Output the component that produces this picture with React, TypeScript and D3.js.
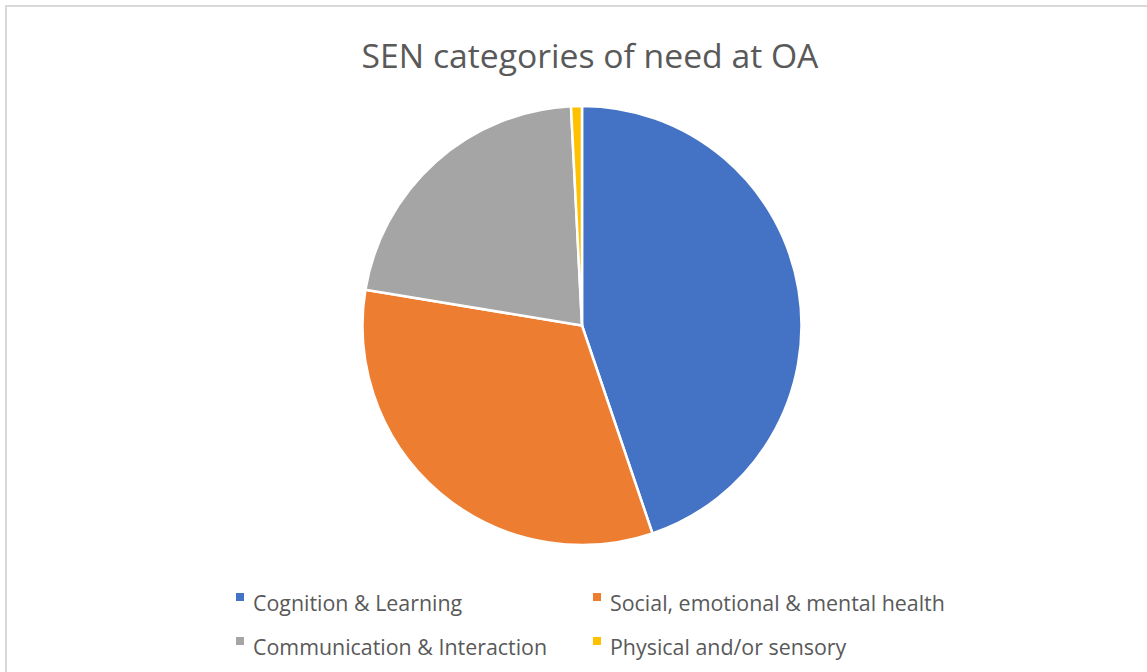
import React from "react";
import * as d3 from "d3";

const categories = [
  "Cognition & Learning",
  "Social, emotional & mental health",
  "Communication & Interaction",
  "Physical and/or sensory",
];
const values = [56, 41, 27, 1];
const colors = ["#4472C4", "#ED7D31", "#A5A5A5", "#FFC000"];
const title = "SEN categories of need at OA";

const W = 1147;
const H = 672;
const FONT = "'Open Sans', Lato, sans-serif";

export default function App() {
  const cx = 582;
  const cy = 325.5;
  const r = 219.5;
  const data = categories.map((c, i) => ({ c, v: values[i], col: colors[i] }));
  const pie = d3
    .pie<{ c: string; v: number; col: string }>()
    .sort(null)
    .value((d) => d.v)
    .startAngle(0)
    .endAngle(2 * Math.PI);
  const arc = d3
    .arc<d3.PieArcDatum<{ c: string; v: number; col: string }>>()
    .innerRadius(0)
    .outerRadius(r);
  const arcs = pie(data);

  const legendPos = [
    { x: 236, y: 593 },
    { x: 593, y: 593 },
    { x: 236, y: 637 },
    { x: 593, y: 637 },
  ];

  return (
    <div style={{ position: "fixed", left: 0, top: 0, width: W, height: H, background: "#fff" }}>
      <svg width={W} height={H} style={{ display: "block" }}>
        <rect x={6} y={6} width={W + 20} height={H + 20} fill="#fff" stroke="#d9d9d9" strokeWidth={2} />
        <text
          x={590}
          y={68}
          textAnchor="middle"
          fontFamily={FONT}
          fontSize={33.7}
          fill="#595959"
        >
          {title}
        </text>
        <g transform={`translate(${cx},${cy})`}>
          {arcs.map((a, i) => (
            <path key={i} d={arc(a) || ""} fill={a.data.col} stroke="#fff" strokeWidth={2.5} strokeLinejoin="round" />
          ))}
        </g>
        {data.map((d, i) => (
          <g key={d.c} transform={`translate(${legendPos[i].x},${legendPos[i].y})`}>
            <rect x={0} y={0} width={8} height={8} fill={d.col} />
            <text x={17} y={18} fontFamily={FONT} fontSize={21.4} fill="#595959">
              {d.c}
            </text>
          </g>
        ))}
      </svg>
    </div>
  );
}
